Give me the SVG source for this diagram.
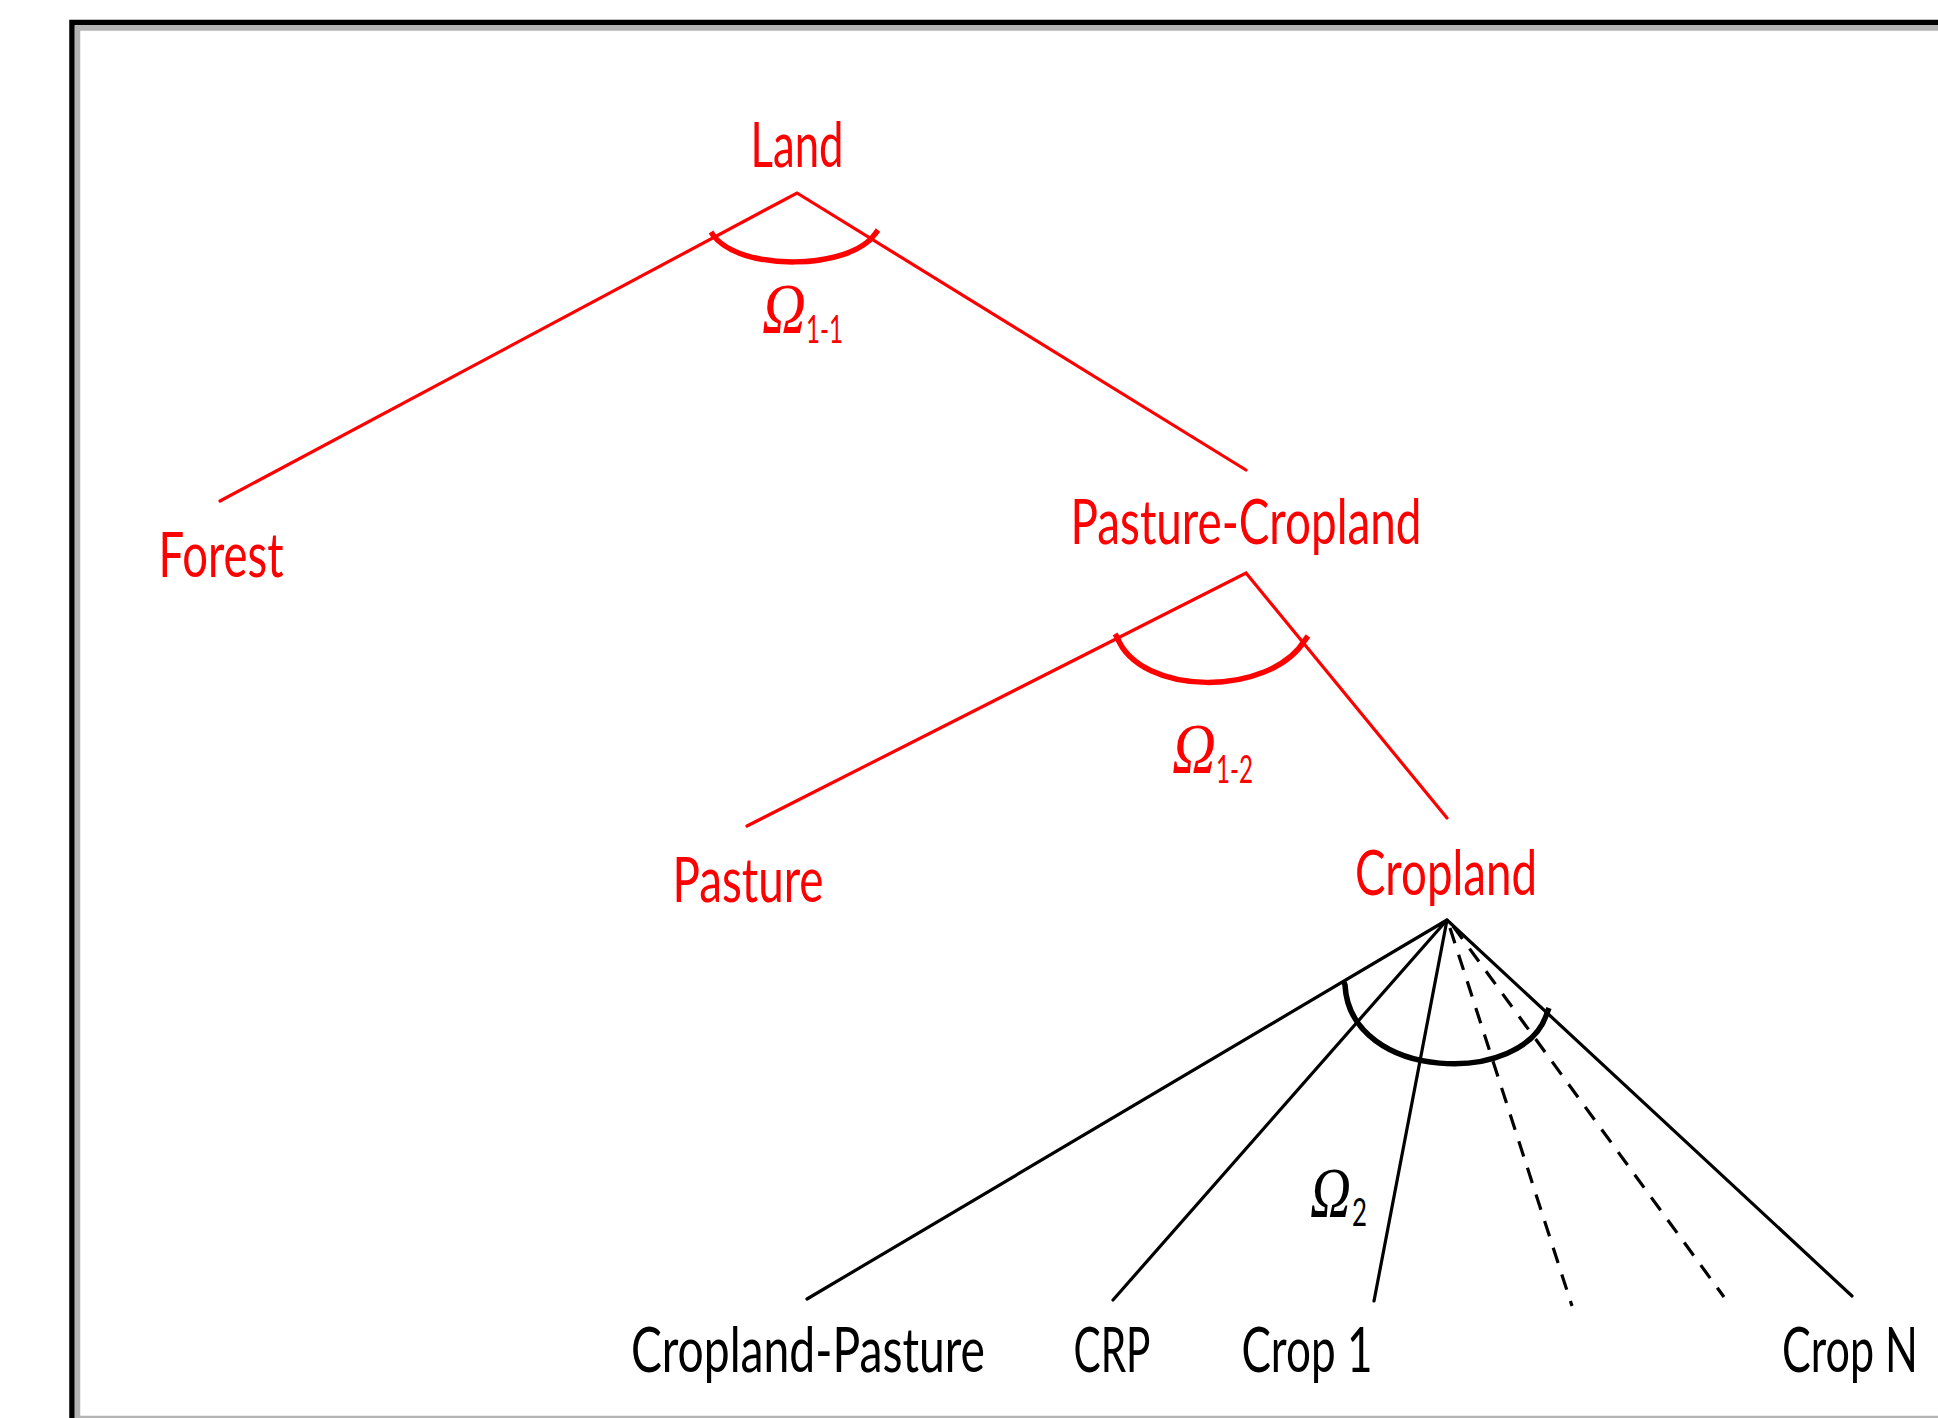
<svg xmlns="http://www.w3.org/2000/svg" width="1938" height="1418" viewBox="0 0 1938 1418">
<style>
.lbl{font-family:Lato,"Open Sans","Liberation Sans",sans-serif;font-size:61px;text-anchor:middle}
.red{fill:#ff0000}
.blk{fill:#000000}
.om{font-family:"Liberation Serif","DejaVu Serif",serif;font-style:italic;font-size:72px}
.sub{font-family:Lato,"Open Sans","Liberation Sans",sans-serif;font-size:38px}
.rl{stroke:#ff0000;stroke-width:3.2;fill:none;stroke-linecap:round}
.bl{stroke:#000000;stroke-width:3.2;fill:none;stroke-linecap:round}
.dl{stroke:#000000;stroke-width:3.2;fill:none;stroke-dasharray:16 12}
.rarc{stroke:#ff0000;stroke-width:5.5;fill:none}
.barc{stroke:#000000;stroke-width:5.5;fill:none}
</style>
<rect x="0" y="0" width="1938" height="1418" fill="#ffffff"/>
<g id="frame">
<rect x="72" y="22.5" width="1900" height="1440" fill="none" stroke="#000000" stroke-width="5.5"/>
<rect x="77.5" y="28" width="1900" height="1390.5" fill="none" stroke="#b4b4b4" stroke-width="5.5"/>
</g>
<g id="connectors">
<path class="rl" d="M220,501 L797,193 L1246,470"/>
<path class="rarc" d="M711,232 L713,235 C740,272 850,270 875,234 L878,230"/>
<path class="rl" d="M747,826 L1246,573 L1447,818"/>
<path class="rarc" d="M1115,634 L1117,637 C1140,697 1270,697 1305,640 L1308,636"/>
<path class="bl" d="M807,1299 L1447,920 L1113,1300"/>
<path class="bl" d="M1447,920 L1374,1301"/>
<path class="bl" d="M1447,920 L1852,1296"/>
<path class="dl" d="M1450,928 L1572,1306"/>
<path class="dl" d="M1453,926 L1724,1297"/>
<path class="barc" d="M1344,982 L1345,985 C1350,1082 1525,1087 1547,1013 L1549,1008"/>
</g>
<g id="omega11">
<text class="om red" x="762" y="333" textLength="44" lengthAdjust="spacingAndGlyphs">Ω</text>
<text class="sub red" x="806" y="343" textLength="37" lengthAdjust="spacingAndGlyphs">1-1</text>
</g>
<g id="omega12">
<text class="om red" x="1172" y="773" textLength="44" lengthAdjust="spacingAndGlyphs">Ω</text>
<text class="sub red" x="1216" y="783" textLength="37" lengthAdjust="spacingAndGlyphs">1-2</text>
</g>
<g id="omega2">
<text class="om blk" x="1310" y="1217" textLength="41" lengthAdjust="spacingAndGlyphs">Ω</text>
<text class="sub blk" x="1352" y="1226" textLength="15" lengthAdjust="spacingAndGlyphs">2</text>
</g>
<g id="land"><text class="lbl red" x="797" y="167" textLength="93" lengthAdjust="spacingAndGlyphs">Land</text></g>
<g id="forest"><text class="lbl red" x="221" y="577" textLength="125" lengthAdjust="spacingAndGlyphs">Forest</text></g>
<g id="pasture-cropland"><text class="lbl red" x="1246" y="544" textLength="351" lengthAdjust="spacingAndGlyphs">Pasture-Cropland</text></g>
<g id="pasture"><text class="lbl red" x="748" y="902" textLength="151" lengthAdjust="spacingAndGlyphs">Pasture</text></g>
<g id="cropland"><text class="lbl red" x="1446" y="895" textLength="182" lengthAdjust="spacingAndGlyphs">Cropland</text></g>
<g id="cropland-pasture"><text class="lbl blk" x="808" y="1372" textLength="354" lengthAdjust="spacingAndGlyphs">Cropland-Pasture</text></g>
<g id="crp"><text class="lbl blk" x="1112" y="1372" textLength="77" lengthAdjust="spacingAndGlyphs">CRP</text></g>
<g id="crop1"><text class="lbl blk" x="1307" y="1372" textLength="131" lengthAdjust="spacingAndGlyphs">Crop 1</text></g>
<g id="cropN"><text class="lbl blk" x="1850" y="1372" textLength="136" lengthAdjust="spacingAndGlyphs">Crop N</text></g>
</svg>
